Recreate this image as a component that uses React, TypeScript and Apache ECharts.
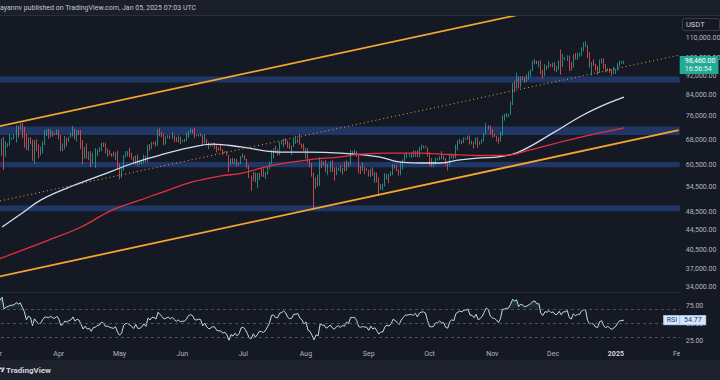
import React, { useEffect, useRef } from 'react';
import * as echarts from 'echarts';

// ---------- data (prices in thousands of USDT) ----------
const AXIS_START = Date.UTC(2024, 2, 1);
const AXIS_DAYS = 338; // 2024-03-01 .. 2025-02-01

// closes used only to warm up the RSI (2024-02-01 .. 2024-02-29)
const warmupCloses = [43.1, 43.2, 43.0, 42.6, 42.7, 43.1, 44.3, 45.3, 47.1, 47.8, 48.3, 50.0, 49.7, 51.8, 52.0, 52.1, 51.7, 52.1, 51.7, 52.3, 51.8, 51.3, 50.7, 51.6, 51.7, 54.5, 57.0, 62.5, 61.2];

// daily candles 2024-03-01 .. 2025-01-05
const closes = [
  62.4, 62.0, 63.1, 68.3, 63.8, 66.1, 66.9, 68.3, 68.5, 69.0, 72.1, 71.5, 73.1, 71.4, 69.5, 65.3, 68.4, 67.6, 61.9, 67.9, 65.5, 63.8, 64.1, 67.2, 69.9, 69.9, 69.5, 70.8, 69.9, 69.6, 71.3,
  69.7, 65.5, 66.0, 68.5, 67.8, 68.9, 69.4, 71.6, 69.1, 70.6, 70.0, 67.2, 63.9, 65.7, 63.4, 63.8, 61.3, 63.5, 63.8, 64.9, 65.0, 66.8, 66.4, 64.3, 64.5, 63.8, 63.4, 63.1, 63.8, 60.6,
  58.3, 59.1, 62.9, 63.9, 64.0, 63.2, 62.3, 61.2, 63.1, 60.8, 60.8, 61.5, 62.9, 61.6, 66.3, 65.3, 67.1, 67.0, 66.3, 71.4, 70.2, 69.2, 68.0, 68.6, 69.3, 68.5, 69.4, 68.4, 67.6, 68.4, 67.5,
  67.8, 67.8, 68.8, 70.6, 71.1, 70.8, 69.4, 69.3, 69.6, 69.5, 67.3, 68.3, 66.8, 66.0, 66.2, 66.7, 66.5, 65.2, 65.0, 64.9, 64.1, 64.3, 63.2, 60.3, 61.8, 60.9, 61.7, 60.3, 60.9, 62.7,
  62.9, 62.1, 60.2, 57.1, 56.7, 58.2, 55.9, 56.7, 58.0, 57.7, 57.3, 57.9, 59.2, 60.8, 64.8, 65.1, 64.1, 64.0, 66.7, 67.2, 68.2, 67.6, 66.0, 65.4, 65.8, 67.9, 67.9, 68.3, 66.8, 66.2, 64.6,
  65.4, 61.5, 60.7, 58.1, 54.0, 56.1, 55.1, 61.7, 60.9, 60.9, 58.7, 59.4, 60.6, 58.7, 57.6, 58.9, 59.5, 58.4, 59.5, 59.0, 61.2, 60.4, 64.1, 64.2, 64.3, 62.9, 59.5, 59.0, 59.4, 59.1, 59.0,
  57.3, 59.1, 57.5, 58.0, 56.2, 54.0, 54.9, 54.9, 57.1, 57.7, 57.3, 58.2, 60.5, 60.0, 59.2, 58.2, 60.3, 61.8, 63.0, 63.2, 63.4, 63.6, 63.3, 64.3, 63.2, 65.2, 65.8, 65.9, 65.6, 63.3,
  60.8, 60.6, 60.8, 62.1, 62.1, 62.8, 62.2, 62.2, 60.6, 60.3, 62.5, 63.2, 62.9, 66.1, 67.0, 67.6, 67.4, 68.4, 68.4, 69.0, 67.4, 67.4, 66.7, 68.2, 66.6, 67.0, 68.0, 69.9, 72.7, 72.3, 70.2,
  69.5, 69.3, 68.8, 67.8, 69.4, 75.6, 75.9, 76.5, 76.7, 80.4, 88.7, 88.0, 90.4, 87.3, 91.1, 90.6, 89.9, 90.5, 92.3, 94.3, 98.4, 98.9, 97.7, 97.9, 93.0, 92.0, 96.0, 95.6, 97.5, 96.4,
  97.2, 95.8, 96.0, 98.8, 97.0, 99.9, 99.9, 101.1, 97.4, 96.6, 101.2, 100.0, 101.4, 101.4, 104.5, 106.1, 106.2, 100.2, 97.5, 97.8, 97.3, 95.1, 94.9, 98.7, 99.4, 95.8, 94.2, 95.3, 93.7, 92.8, 93.6,
  94.6, 96.9, 98.1, 98.3, 98.46,
];
const highs = [
  63.2, 62.5, 63.2, 68.5, 69.0, 67.6, 67.0, 69.9, 68.8, 69.9, 72.9, 72.9, 73.6, 73.8, 72.4, 70.0, 68.9, 68.9, 68.1, 68.0, 68.2, 66.6, 65.9, 67.6, 71.2, 71.5, 71.7, 71.6, 70.9, 70.3, 71.4,
  71.3, 69.7, 66.9, 69.3, 68.7, 69.0, 70.3, 72.7, 71.7, 71.2, 71.3, 71.2, 68.0, 65.8, 66.9, 64.4, 64.5, 64.0, 65.4, 65.0, 65.7, 67.2, 67.2, 67.1, 65.3, 64.8, 63.9, 64.4, 64.2, 64.7,
  60.9, 59.6, 63.3, 64.5, 64.5, 65.5, 64.0, 62.9, 63.2, 63.5, 61.5, 61.8, 63.5, 63.1, 66.5, 66.7, 67.4, 67.4, 67.7, 71.5, 71.9, 70.6, 70.1, 69.2, 69.6, 69.5, 70.6, 69.5, 68.9, 69.5, 69.0,
  68.0, 68.4, 70.3, 71.1, 71.8, 71.6, 72.0, 69.6, 69.9, 70.2, 69.6, 69.9, 68.4, 67.3, 66.4, 66.9, 67.2, 66.6, 65.7, 66.5, 65.0, 64.5, 64.5, 63.4, 62.3, 62.5, 62.3, 62.2, 61.2, 63.0,
  63.8, 63.3, 62.3, 60.5, 57.5, 58.5, 58.3, 58.2, 58.3, 59.5, 59.4, 58.5, 59.9, 61.4, 64.9, 65.4, 66.1, 65.1, 67.4, 67.6, 68.4, 68.5, 67.8, 67.1, 66.2, 68.3, 69.4, 68.3, 70.0, 66.9, 66.8,
  65.6, 65.0, 62.2, 61.1, 58.3, 57.0, 57.7, 62.7, 61.8, 61.5, 61.8, 60.7, 61.6, 61.8, 59.8, 59.8, 59.6, 60.3, 59.6, 61.4, 61.8, 61.4, 64.9, 64.5, 65.0, 64.5, 63.3, 60.2, 61.2, 59.9, 59.5,
  59.1, 59.4, 59.8, 58.5, 58.3, 57.0, 55.3, 55.3, 58.1, 58.0, 57.9, 58.6, 60.7, 60.6, 60.4, 59.2, 61.3, 62.0, 63.9, 64.1, 63.6, 64.0, 64.8, 64.6, 64.8, 65.8, 66.5, 66.3, 66.1, 65.6,
  64.1, 62.4, 61.5, 62.5, 62.4, 63.0, 64.5, 63.2, 62.5, 61.3, 63.4, 63.5, 63.3, 66.5, 67.9, 68.4, 67.9, 68.9, 68.7, 69.4, 69.5, 67.8, 67.5, 68.8, 68.8, 67.5, 68.3, 70.2, 73.6, 72.9, 72.7,
  71.6, 70.0, 69.4, 69.0, 70.6, 76.4, 76.9, 77.2, 76.9, 81.5, 89.0, 89.9, 93.3, 91.8, 91.9, 91.8, 91.7, 92.6, 94.0, 94.9, 98.9, 99.6, 98.8, 98.7, 98.9, 94.7, 97.2, 96.6, 98.7, 97.5,
  97.9, 98.2, 96.3, 99.0, 104.1, 101.9, 100.5, 101.4, 101.2, 98.3, 101.9, 102.5, 102.6, 102.6, 105.3, 107.8, 108.4, 106.5, 102.8, 98.2, 99.5, 97.4, 96.4, 99.4, 99.9, 99.9, 97.3, 95.5, 95.3, 94.9, 96.1,
  94.9, 97.8, 98.9, 98.7, 98.8,
];
const lows = [
  61.0, 61.6, 61.3, 63.1, 59.0, 62.8, 65.7, 66.1, 68.0, 68.2, 67.2, 68.8, 71.3, 68.6, 65.6, 64.8, 64.6, 66.6, 61.6, 60.8, 64.5, 62.3, 63.2, 63.8, 66.4, 69.3, 68.4, 68.9, 69.1, 69.5, 69.6,
  68.2, 64.5, 64.5, 65.1, 66.0, 67.4, 68.8, 69.1, 68.2, 67.5, 69.6, 65.1, 60.7, 62.2, 62.3, 61.8, 59.8, 60.8, 59.6, 63.1, 64.2, 64.5, 65.8, 63.8, 62.8, 63.3, 62.8, 62.8, 61.8, 59.2,
  56.5, 56.9, 58.8, 62.6, 62.9, 62.7, 62.0, 60.9, 60.6, 60.2, 60.5, 60.6, 60.8, 61.1, 61.3, 64.6, 65.1, 66.6, 65.9, 66.1, 69.2, 68.9, 66.3, 66.6, 68.5, 68.3, 68.3, 67.3, 67.4, 67.1, 66.7,
  67.4, 67.3, 67.6, 68.6, 70.4, 70.1, 68.5, 69.2, 69.1, 69.2, 66.1, 66.9, 66.3, 65.1, 65.9, 66.0, 65.1, 64.1, 64.7, 64.6, 63.4, 63.9, 63.2, 58.4, 60.3, 60.7, 60.6, 60.0, 60.3, 60.7,
  62.5, 61.8, 59.4, 56.8, 53.5, 56.0, 55.7, 54.3, 56.3, 57.2, 57.1, 56.6, 57.7, 59.4, 60.6, 62.4, 63.9, 63.2, 63.3, 66.6, 65.8, 66.6, 65.5, 65.1, 63.4, 65.8, 66.7, 67.1, 66.5, 65.3, 64.5,
  62.3, 61.2, 59.8, 57.2, 49.0, 54.0, 54.6, 54.8, 59.6, 60.3, 58.4, 57.7, 58.5, 58.4, 56.1, 57.8, 58.8, 58.4, 57.8, 58.6, 58.8, 59.8, 60.3, 63.6, 63.8, 62.8, 58.1, 57.9, 58.8, 57.8, 58.7,
  57.2, 57.1, 57.4, 55.6, 55.7, 52.5, 53.8, 53.6, 54.6, 56.4, 55.5, 57.3, 57.6, 59.4, 58.7, 57.5, 57.6, 59.2, 61.6, 62.4, 62.8, 62.4, 62.7, 62.8, 62.7, 62.7, 64.8, 65.4, 65.4, 62.9,
  60.2, 59.9, 59.8, 60.5, 61.7, 61.8, 62.1, 61.8, 60.3, 58.9, 60.1, 62.4, 62.1, 62.4, 64.8, 66.8, 66.7, 67.0, 68.0, 68.1, 66.6, 66.6, 65.3, 66.6, 65.5, 66.5, 66.8, 67.5, 69.7, 71.4, 69.7,
  68.8, 69.0, 67.5, 66.8, 67.5, 69.4, 74.5, 75.6, 75.8, 76.5, 80.2, 85.1, 86.7, 86.7, 87.1, 90.1, 89.0, 89.4, 90.4, 91.6, 94.1, 97.2, 97.2, 95.8, 92.6, 90.8, 91.8, 94.6, 95.4, 96.2,
  95.7, 94.2, 93.6, 94.7, 92.5, 95.9, 99.0, 98.7, 94.2, 94.3, 95.7, 99.3, 99.2, 100.6, 101.2, 103.3, 105.3, 100.0, 95.7, 92.2, 96.4, 94.2, 92.4, 93.4, 97.6, 95.1, 93.5, 94.1, 93.3, 91.9, 92.8,
  92.8, 94.2, 96.0, 97.5, 97.3,
];

// moving averages (thousands)
const ma100Dates = ['2024-03-04', '2024-03-14', '2024-03-23', '2024-04-05', '2024-04-22', '2024-05-08', '2024-05-21', '2024-06-04', '2024-06-16', '2024-06-30', '2024-07-19', '2024-08-02', '2024-08-18', '2024-09-06', '2024-09-16', '2024-09-26', '2024-10-06', '2024-10-16', '2024-10-26', '2024-11-04', '2024-11-14', '2024-12-01', '2024-12-14', '2024-12-24', '2025-01-05'];
const ma100Values = [45.1, 48.2, 51.2, 54.2, 57.6, 61.0, 63.3, 65.5, 66.7, 65.8, 64.2, 64.2, 63.9, 62.8, 61.3, 61.0, 61.0, 61.9, 62.5, 62.8, 64.2, 70.3, 75.8, 79.5, 83.2];
const ma200Dates = ['2024-03-01', '2024-03-27', '2024-04-12', '2024-04-27', '2024-05-11', '2024-05-25', '2024-06-06', '2024-06-20', '2024-06-30', '2024-07-16', '2024-08-02', '2024-08-18', '2024-08-28', '2024-09-11', '2024-09-26', '2024-10-11', '2024-10-26', '2024-11-09', '2024-11-19', '2024-12-09', '2024-12-24', '2025-01-05'];
const ma200Values = [38.6, 42.4, 45.1, 48.8, 51.2, 53.7, 55.8, 57.4, 58.1, 60.4, 61.9, 62.8, 63.6, 63.9, 63.9, 63.5, 63.2, 63.3, 64.8, 68.0, 70.3, 72.0];

// horizontal zones (thousands)
const zoneLows = [89.2, 69.6, 59.8, 48.6];
const zoneHighs = [91.7, 72.5, 61.3, 49.9];

// ascending channel anchors (thousands)
const channelDates = ['2024-03-01', '2025-02-01'];
const channelUpper = [72.3, 144.4];
const channelMid = [50.8, 101.4];
const channelLower = [35.6, 71.2];

const priceTicks = [110000, 100000, 92000, 84000, 76000, 68000, 60500, 54500, 48500, 44500, 40500, 37000, 34000];
const rsiTicks = [25, 50, 75];
const rsiLevels = [70, 50, 30];

const lastPrice = 98460;
const barCountdown = '16:56:54';
const lastRsi = 54.77;
const monthNames = ['Jan', 'Feb', 'Mar', 'Apr', 'May', 'Jun', 'Jul', 'Aug', 'Sep', 'Oct', 'Nov', 'Dec'];
const headerText = 'ayannv published on TradingView.com, Jan 05, 2025 07:03 UTC';

// ---------- helpers ----------
const K = 1000;
const L = (v: number) => Math.log(v * K);

function buildDates(): string[] {
  const out: string[] = [];
  for (let i = 0; i < AXIS_DAYS; i++) {
    out.push(new Date(AXIS_START + i * 86400000).toISOString().slice(0, 10));
  }
  return out;
}

function wilderRsi(series: number[], period: number): (number | null)[] {
  const out: (number | null)[] = series.map(() => null);
  let ag = 0, al = 0;
  for (let i = 1; i <= period; i++) {
    const d = series[i] - series[i - 1];
    ag += Math.max(d, 0); al += Math.max(-d, 0);
  }
  ag /= period; al /= period;
  out[period] = al === 0 ? 100 : 100 - 100 / (1 + ag / al);
  for (let i = period + 1; i < series.length; i++) {
    const d = series[i] - series[i - 1];
    ag = (ag * (period - 1) + Math.max(d, 0)) / period;
    al = (al * (period - 1) + Math.max(-d, 0)) / period;
    out[i] = al === 0 ? 100 : 100 - 100 / (1 + ag / al);
  }
  return out;
}

const fmtPrice = (v: number) =>
  Math.round(Math.exp(v)).toLocaleString('en-US', { minimumFractionDigits: 2, maximumFractionDigits: 2 });

let logoRegistered = false;

export default function App() {
  const ref = useRef<HTMLDivElement>(null);

  useEffect(() => {
    if (!ref.current) return;
    if (!logoRegistered) {
      echarts.graphic.registerShape('tvlogo', echarts.graphic.extendPath('M14 22H7V11H0V4h14v18zM28 22h-8l7.5-18h8L28 22z', {}) as any);
      logoRegistered = true;
    }
    const chart = echarts.init(ref.current, null, { renderer: 'svg' });

    const dates = buildDates();
    const candles = closes.map((c, i) => {
      const o = i === 0 ? warmupCloses[warmupCloses.length - 1] : closes[i - 1];
      const h = Math.max(highs[i], o, c);
      const l = Math.min(lows[i], o, c);
      return [L(o), L(c), L(l), L(h)];
    });
    const rsiAll = wilderRsi([...warmupCloses, ...closes], 14);
    const rsi = rsiAll.slice(warmupCloses.length) as number[];
    const obFill = rsi.map((v) => (v > 70 ? v : 70));
    const osFill = rsi.map((v) => (v < 30 ? v : 30));

    const bg = '#151924';
    const axisText = '#b2b5be';
    const font = 'Roboto, "Noto Sans", sans-serif';
    const hidden = { color: 'rgba(0,0,0,0)', width: 0 };

    const gridLeft = -5;
    const gridWidth = 684.7;

    const option: any = {
      animation: false,
      backgroundColor: bg,
      textStyle: { fontFamily: font },
      grid: [
        { left: gridLeft, top: 16, width: gridWidth, height: 276, containLabel: false, outerBoundsMode: 'none' },
        { left: gridLeft, top: 292, width: gridWidth, height: 54, containLabel: false, outerBoundsMode: 'none' },
      ],
      xAxis: [
        {
          type: 'category', gridIndex: 0, data: dates, boundaryGap: true,
          axisLine: { show: true, lineStyle: { color: '#262a35', width: 1 } },
          axisTick: { show: false }, axisLabel: { show: false }, splitLine: { show: false },
        },
        {
          type: 'category', gridIndex: 1, data: dates, boundaryGap: true,
          axisLine: { show: false }, axisTick: { show: false }, splitLine: { show: false },
          axisLabel: {
            show: true, color: axisText, fontSize: 7, margin: 4, fontFamily: font,
            interval: (_i: number, v: string) => v.endsWith('-01'),
            formatter: (v: string) => {
              const m = parseInt(v.slice(5, 7), 10) - 1;
              return m === 0 ? '{y|' + v.slice(0, 4) + '}' : monthNames[m];
            },
            rich: { y: { fontWeight: 'bold', color: '#d1d4dc', fontSize: 7, fontFamily: font } },
          },
        },
      ],
      yAxis: [
        {
          type: 'value', gridIndex: 0, position: 'right',
          min: 10.41013, max: 11.71201,
          splitLine: { show: false }, axisLine: { show: false }, axisTick: { show: false },
          axisLabel: {
            customValues: priceTicks.map((p) => Math.log(p)),
            formatter: fmtPrice, color: axisText, fontSize: 7, margin: 6, fontFamily: font,
          },
        },
        {
          type: 'value', gridIndex: 1, position: 'right',
          min: 17.86, max: 95,
          splitLine: { show: false }, axisLine: { show: false }, axisTick: { show: false },
          axisLabel: {
            customValues: rsiTicks,
            formatter: (v: number) => v.toFixed(2), color: axisText, fontSize: 7, margin: 6, fontFamily: font,
          },
        },
      ],
      series: [
        {
          type: 'candlestick', xAxisIndex: 0, yAxisIndex: 0, data: candles, barWidth: '62%',
          itemStyle: {
            color: '#26a69a', color0: '#ef5350', borderColor: '#26a69a', borderColor0: '#ef5350', borderWidth: 0.8,
          },
          markArea: {
            silent: true,
            itemStyle: { color: 'rgba(47, 98, 196, 0.42)' },
            data: zoneLows.map((lo, i) => [{ yAxis: L(lo) }, { yAxis: L(zoneHighs[i]) }]),
          },
          markLine: {
            silent: true, symbol: ['none', 'none'], animation: false,
            lineStyle: hidden,
            data: [
              {
                yAxis: Math.log(lastPrice),
                lineStyle: hidden,
                label: {
                  show: true, position: 'end', distance: 0, offset: [0, 4],
                  formatter: '{p|' + lastPrice.toLocaleString('en-US', { minimumFractionDigits: 2 }) + '}\n{t|' + barCountdown + '}',
                  backgroundColor: '#22ab94', padding: [1, 3, 1, 5], opacity: 1,
                  rich: {
                    p: { color: '#ffffff', fontSize: 7, lineHeight: 8, fontFamily: font },
                    t: { color: '#e6f5f1', fontSize: 7, lineHeight: 8, fontFamily: font },
                  },
                },
              },
            ],
          },
          z: 3,
        },
        {
          type: 'line', xAxisIndex: 0, yAxisIndex: 0, name: 'MA100',
          data: ma100Dates.map((d, i) => [d, L(ma100Values[i])]),
          smooth: 0.4, showSymbol: false, symbol: 'none',
          lineStyle: { color: '#d2ddf2', width: 1.3 }, z: 4,
        },
        {
          type: 'line', xAxisIndex: 0, yAxisIndex: 0, name: 'MA200',
          data: ma200Dates.map((d, i) => [d, L(ma200Values[i])]),
          smooth: 0.4, showSymbol: false, symbol: 'none',
          lineStyle: { color: '#e5303f', width: 1.3 }, z: 4,
        },
        {
          type: 'line', xAxisIndex: 0, yAxisIndex: 0, name: 'upper',
          data: channelDates.map((d, i) => [d, L(channelUpper[i])]),
          showSymbol: false, symbol: 'none', lineStyle: { color: '#f6a430', width: 1.8 }, z: 5,
        },
        {
          type: 'line', xAxisIndex: 0, yAxisIndex: 0, name: 'lower',
          data: channelDates.map((d, i) => [d, L(channelLower[i])]),
          showSymbol: false, symbol: 'none', lineStyle: { color: '#f6a430', width: 1.8 }, z: 5,
        },
        {
          type: 'line', xAxisIndex: 0, yAxisIndex: 0, name: 'mid',
          data: channelDates.map((d, i) => [d, L(channelMid[i])]),
          showSymbol: false, symbol: 'none', lineStyle: { color: '#f0a43a', width: 1, type: [1, 3] }, z: 5,
        },
        {
          type: 'line', xAxisIndex: 1, yAxisIndex: 1, name: 'obFill', data: obFill,
          showSymbol: false, symbol: 'none', lineStyle: { width: 0, opacity: 0 },
          areaStyle: {
            origin: 70,
            color: new echarts.graphic.LinearGradient(0, 0, 0, 1, [
              { offset: 0, color: 'rgba(38, 166, 154, 0.55)' },
              { offset: 1, color: 'rgba(38, 166, 154, 0.05)' },
            ]),
          },
          z: 2,
        },
        {
          type: 'line', xAxisIndex: 1, yAxisIndex: 1, name: 'osFill', data: osFill,
          showSymbol: false, symbol: 'none', lineStyle: { width: 0, opacity: 0 },
          areaStyle: { origin: 30, color: 'rgba(239, 83, 80, 0.3)' },
          z: 2,
        },
        {
          type: 'line', xAxisIndex: 1, yAxisIndex: 1, name: 'RSI', data: rsi,
          showSymbol: false, symbol: 'none', lineStyle: { color: '#c9d6ec', width: 1 }, z: 3,
          markLine: {
            silent: true, symbol: ['none', 'none'], animation: false,
            data: [
              ...rsiLevels.map((lv) => ({
                yAxis: lv, lineStyle: { color: '#5d606b', width: 0.8, type: [3, 3] }, label: { show: false },
              })),
              {
                yAxis: lastRsi, lineStyle: hidden,
                label: {
                  show: true, position: 'end', distance: 0, offset: [-16, 0],
                  formatter: '{a|RSI}{b|' + lastRsi.toFixed(2) + '}',
                  rich: {
                    a: { backgroundColor: '#d7e5f8', color: '#173c70', fontSize: 7, padding: [1, 3, 1, 3], borderColor: '#7ea6e0', borderWidth: 0.6, fontFamily: font },
                    b: { backgroundColor: '#d7e5f8', color: '#173c70', fontSize: 7, padding: [1, 4, 1, 4], borderColor: '#7ea6e0', borderWidth: 0.6, fontFamily: font },
                  },
                },
              },
            ],
          },
        },
      ],
      graphic: {
        elements: [
          { type: 'rect', z: 100, shape: { x: 0, y: 0, width: 720, height: 15 }, style: { fill: '#1b1f2a' } },
          { type: 'line', z: 100, shape: { x1: 0, y1: 15.5, x2: 720, y2: 15.5 }, style: { stroke: '#2a2e39', lineWidth: 1 } },
          { type: 'text', z: 101, x: 0, y: 8, style: { text: headerText, fill: '#c3c6ce', font: '7px ' + font, verticalAlign: 'middle' } },
          { type: 'rect', z: 100, shape: { x: 682.5, y: 18.5, width: 37, height: 12, r: 2 }, style: { fill: bg, stroke: '#434651', lineWidth: 0.8 } },
          { type: 'text', z: 101, x: 686, y: 24.5, style: { text: 'USDT', fill: '#d1d4dc', font: '7.5px ' + font, verticalAlign: 'middle' } },
          { type: 'rect', z: 100, shape: { x: 680, y: 347, width: 40, height: 13 }, style: { fill: bg } },
          { type: 'rect', z: 100, shape: { x: 0, y: 360, width: 720, height: 20 }, style: { fill: '#1e222d' } },
          { type: 'tvlogo', z: 101, x: -4, y: 366.5, scaleX: 0.25, scaleY: 0.25, style: { fill: '#d1d4dc' } },
          { type: 'circle', z: 101, shape: { cx: 1, cy: 368.3, r: 1 }, style: { fill: '#d1d4dc' } },
          { type: 'text', z: 101, x: 6, y: 370, style: { text: 'TradingView', fill: '#d1d4dc', font: 'bold 8px ' + font, verticalAlign: 'middle' } },
        ],
      },
    };

    chart.setOption(option);
    return () => chart.dispose();
  }, []);

  return <div ref={ref} style={{ position: 'fixed', left: 0, top: 0, width: 720, height: 380 }} />;
}
